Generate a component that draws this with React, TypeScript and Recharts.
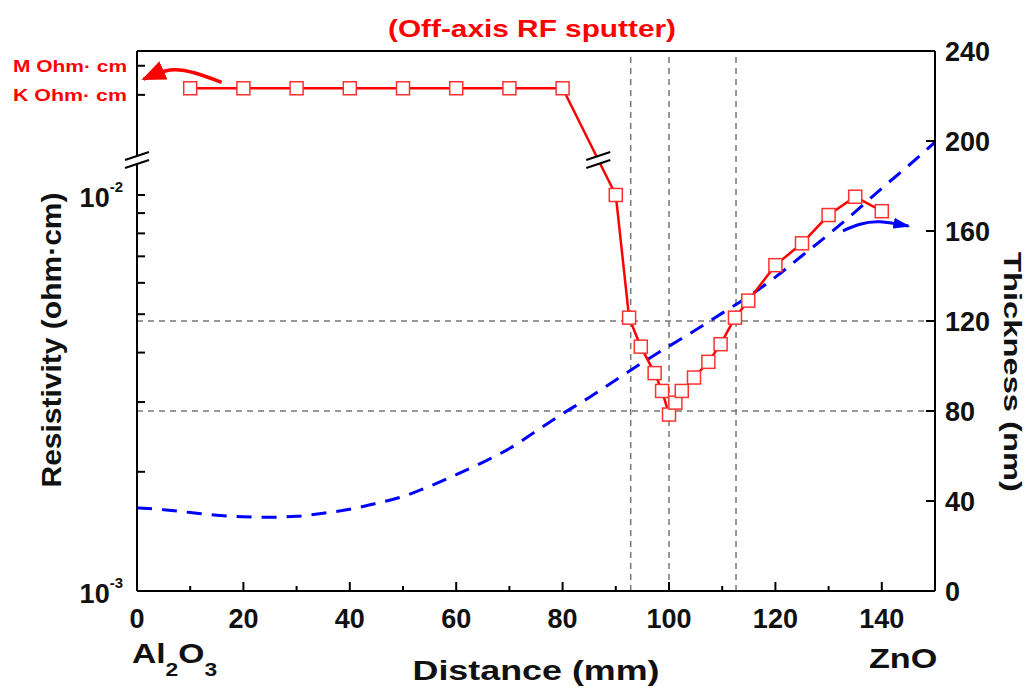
import React from 'react';
import { ComposedChart, Line, XAxis, YAxis, ReferenceLine, ReferenceDot } from 'recharts';

// resistivity, left log axis (the first 8 points sit above the axis break, in the K Ohm·cm band)
const resDistance = [10, 20, 30, 40, 50, 60, 70, 80, 90, 92.5, 94.7, 97.3, 98.7, 100, 101.2, 102.4, 104.7, 107.4, 109.7, 112.4, 114.9, 120, 125, 130, 135, 140];
const resistivity = [0.0186, 0.0186, 0.0186, 0.0186, 0.0186, 0.0186, 0.0186, 0.0186, 0.01, 0.0049, 0.00414, 0.00355, 0.0032, 0.00279, 0.00299, 0.0032, 0.00346, 0.00379, 0.0042, 0.0049, 0.00541, 0.00665, 0.00755, 0.0089, 0.0099, 0.0091];

// film thickness, right axis (nm)
const thickDistance = [0, 5, 10, 15, 20, 25, 30, 35, 40, 45, 50, 55, 60, 65, 70, 75, 80, 85, 90, 95, 100, 105, 110, 115, 120, 125, 130, 135, 140, 145, 150];
const thickness = [37.0, 36.1, 34.9, 33.7, 33.0, 32.8, 33.2, 34.6, 36.3, 39.0, 42.0, 46.5, 51.7, 57.2, 63.3, 71.0, 78.8, 86.0, 93.8, 101.5, 108.8, 116.0, 123.5, 131.0, 139.5, 149.0, 158.5, 168.5, 179.0, 189.0, 199.5];

// annotation arrows
const redArrowX = [15.9, 10.9, 6.2, 1.2];
const redArrowY = [0.01926, 0.02032, 0.02068, 0.0196];
const blueArrowX = [132.7, 135.9, 139.7, 145.0];
const blueArrowY = [160.1, 163.0, 164.1, 162.2];

const xTicks = [0, 10, 20, 30, 40, 50, 60, 70, 80, 90, 100, 110, 120, 130, 140, 150];
const leftTicks = [0.001, 0.002, 0.003, 0.004, 0.005, 0.006, 0.007, 0.008, 0.009, 0.01, 0.0179, 0.0212];
const rightTicks = [0, 40, 80, 120, 160, 200, 240];
const vGuides = [92.8, 100, 112.6];
const hGuides = [80, 120];
const breakY = 0.01226;
const lineBreakX = 86.7;

const resData = resDistance.map((x, i) => ({ x, r: resistivity[i] }));
const thickData = thickDistance.map((x, i) => ({ x, t: thickness[i] }));
const redArrow = redArrowX.map((x, i) => ({ x, a: redArrowY[i] }));
const blueArrow = blueArrowX.map((x, i) => ({ x, a: blueArrowY[i] }));

const FONT = '"Liberation Sans", Arial, sans-serif';
const RED = '#ff0000';

const BottomTick = (p: any) => {
  const { x, y, payload } = p;
  const v = payload.value;
  const major = v % 20 === 0;
  return (
    <g>
      <line x1={x} x2={x} y1={y} y2={y - (major ? 9 : 5)} stroke="#000" strokeWidth={2} />
      {major && v <= 140 && (
        <text x={x} y={y + 37} textAnchor="middle" fontSize={27} fontWeight="bold" fontFamily={FONT} fill="#111">{v}</text>
      )}
    </g>
  );
};

const TopTick = (p: any) => {
  const { x, y, payload } = p;
  const major = payload.value % 20 === 0;
  return <line x1={x} x2={x} y1={y} y2={y + (major ? 9 : 5)} stroke="#000" strokeWidth={2} />;
};

const LeftTick = (p: any) => {
  const { x, y, payload } = p;
  const v = payload.value;
  let label = null;
  if (v === 0.001 || v === 0.01) {
    label = (
      <text x={x - 14} y={y + 12} textAnchor="end" fontSize={27} fontWeight="bold" fontFamily={FONT} fill="#111">
        <tspan>10</tspan>
        <tspan fontSize={15} dy={-15}>{v === 0.001 ? '-3' : '-2'}</tspan>
      </text>
    );
  } else if (v === 0.0179 || v === 0.0212) {
    label = (
      <text x={x - 10} y={y + 6} textAnchor="end" fontSize={17} fontWeight="bold" fontFamily={FONT} fill={RED}
        textLength={114} lengthAdjust="spacingAndGlyphs">
        {v === 0.0212 ? 'M Ohm· cm' : 'K Ohm· cm'}
      </text>
    );
  }
  return (
    <g>
      <line x1={x} x2={x + 8} y1={y} y2={y} stroke="#000" strokeWidth={2} />
      {label}
    </g>
  );
};

const RightTick = (p: any) => {
  const { x, y, payload } = p;
  return (
    <g>
      <line x1={x} x2={x - 9} y1={y} y2={y} stroke="#000" strokeWidth={2} />
      <text x={x + 10} y={y + 10} textAnchor="start" fontSize={27} fontWeight="bold" fontFamily={FONT} fill="#111">{payload.value}</text>
    </g>
  );
};

const BreakMark = (p: any) => {
  const { cx, cy } = p;
  return (
    <g>
      <polygon points={`${cx - 10},${cy - 1} ${cx + 10},${cy - 7} ${cx + 10},${cy + 1} ${cx - 10},${cy + 7}`} fill="#fff" />
      <line x1={cx - 12} y1={cy} x2={cx + 12} y2={cy - 8} stroke="#000" strokeWidth={2} />
      <line x1={cx - 12} y1={cy + 8} x2={cx + 12} y2={cy} stroke="#000" strokeWidth={2} />
    </g>
  );
};

const SquareDot = (p: any) => {
  const { cx, cy, index } = p;
  return <rect key={`sq${index}`} x={cx - 6.5} y={cy - 6.5} width={13} height={13} fill="#fff" stroke="#ff3030" strokeWidth={1.5} />;
};

const axisLine = { stroke: '#000', strokeWidth: 2 };

export default function App() {
  return (
    <ComposedChart width={1020} height={683} margin={{ top: 23, right: 0, bottom: 0, left: 0 }}>
      <defs>
        <marker id="redHead" markerWidth={24} markerHeight={20} refX={22} refY={10} orient="auto" markerUnits="userSpaceOnUse">
          <path d="M0,0 L24,10 L0,20 Z" fill={RED} />
        </marker>
        <marker id="blueHead" markerWidth={17} markerHeight={11} refX={15} refY={5.5} orient="auto" markerUnits="userSpaceOnUse">
          <path d="M0,0 L17,5.5 L0,11 Z" fill="#0000ff" />
        </marker>
      </defs>

      <XAxis dataKey="x" type="number" domain={[0, 150]} ticks={xTicks} interval={0} allowDataOverflow
        height={100} tickSize={0} tickMargin={0} tickLine={false} axisLine={axisLine} tick={BottomTick} />
      <XAxis xAxisId="top" orientation="top" type="number" domain={[0, 150]} ticks={xTicks} interval={0}
        height={20} tickSize={0} tickMargin={0} tickLine={false} axisLine={axisLine} tick={TopTick} />
      <YAxis yAxisId="left" scale="log" type="number" domain={[0.001, 0.0231]} allowDataOverflow ticks={leftTicks} interval={0}
        width={129} tickSize={0} tickMargin={0} tickLine={false} axisLine={axisLine} tick={LeftTick} />
      <YAxis yAxisId="right" orientation="right" type="number" domain={[0, 240]} ticks={rightTicks} interval={0}
        width={93} tickSize={0} tickMargin={0} tickLine={false} axisLine={axisLine} tick={RightTick} />

      {vGuides.map((v) => (
        <ReferenceLine key={`v${v}`} x={v} yAxisId="right" stroke="#777" strokeWidth={1.5} strokeDasharray="6 5" />
      ))}
      {hGuides.map((v) => (
        <ReferenceLine key={`h${v}`} y={v} yAxisId="right" stroke="#777" strokeWidth={1.5} strokeDasharray="6 5" />
      ))}

      <Line data={thickData} dataKey="t" yAxisId="right" type="monotone" stroke="#0000ff" strokeWidth={3}
        strokeDasharray="15 10" dot={false} activeDot={false} isAnimationActive={false} legendType="none" />
      <Line data={resData} dataKey="r" yAxisId="left" type="linear" stroke={RED} strokeWidth={2.5}
        dot={SquareDot} activeDot={false} isAnimationActive={false} legendType="none" />
      <Line data={redArrow} dataKey="a" yAxisId="left" type="natural" stroke={RED} strokeWidth={3.5}
        markerEnd="url(#redHead)" dot={false} activeDot={false} isAnimationActive={false} legendType="none" />
      <Line data={blueArrow} dataKey="a" yAxisId="right" type="natural" stroke="#0000ff" strokeWidth={3}
        markerEnd="url(#blueHead)" dot={false} activeDot={false} isAnimationActive={false} legendType="none" />

      <ReferenceDot x={0} y={breakY} yAxisId="left" r={0} ifOverflow="visible" shape={BreakMark} />
      <ReferenceDot x={lineBreakX} y={breakY} yAxisId="left" r={0} ifOverflow="visible" shape={BreakMark} />

      <text x={524} y={29} textAnchor="middle" fontSize={24} fontWeight="bold" fontFamily={FONT} fill={RED}
        textLength={288} lengthAdjust="spacingAndGlyphs">(Off-axis RF sputter)</text>
      <text x={528} y={672} textAnchor="middle" fontSize={28} fontWeight="bold" fontFamily={FONT} fill="#111"
        textLength={247} lengthAdjust="spacingAndGlyphs">Distance (mm)</text>
      <text transform="translate(44,332) rotate(-90)" textAnchor="middle" dominantBaseline="central" fontSize={27}
        fontWeight="bold" fontFamily={FONT} fill="#111" textLength={295} lengthAdjust="spacingAndGlyphs">Resistivity (ohm·cm)</text>
      <text transform="translate(1004,364) rotate(90)" textAnchor="middle" dominantBaseline="central" fontSize={24}
        fontWeight="bold" fontFamily={FONT} fill="#111" textLength={240} lengthAdjust="spacingAndGlyphs">Thickness (nm)</text>
      <text transform="translate(124,655) scale(1.2,1)" fontSize={28} fontWeight="bold" fontFamily={FONT} fill="#111">
        <tspan>Al</tspan>
        <tspan fontSize={19} dy={13}>2</tspan>
        <tspan dy={-13}>O</tspan>
        <tspan fontSize={19} dy={13}>3</tspan>
      </text>
      <text transform="translate(861,660) scale(1.22,1)" fontSize={28} fontWeight="bold" fontFamily={FONT} fill="#111">ZnO</text>
    </ComposedChart>
  );
}
